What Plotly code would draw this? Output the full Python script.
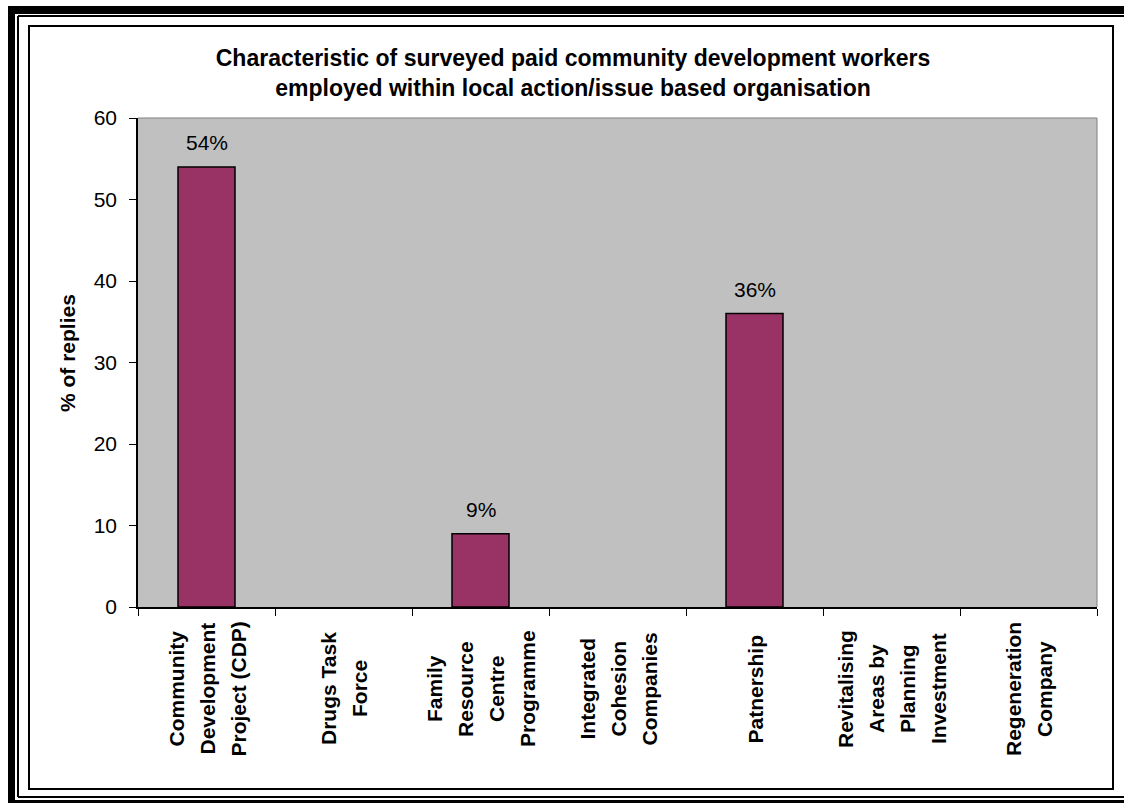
import plotly.graph_objects as go

# Survey data
categories = [
    "Community\nDevelopment\nProject (CDP)",
    "Drugs Task\nForce",
    "Family\nResource\nCentre\nProgramme",
    "Integrated\nCohesion\nCompanies",
    "Patnership",
    "Revitalising\nAreas by\nPlanning\nInvestment",
    "Regeneration\nCompany",
]
pct_replies = [54, 0, 9, 0, 36, 0, 0]
y_ticks = [0, 10, 20, 30, 40, 50, 60]

title_lines = [
    "Characteristic of surveyed paid community development workers",
    "employed within local action/issue based organisation",
]
y_title = "% of replies"

# Canvas and plot-area geometry (pixels)
W, H = 1124, 803
PL, PR, PT, PB = 138, 1097, 118, 607
FONT = "Liberation Sans, Arial, sans-serif"


def px(xp):
    return (xp - PL) / (PR - PL)


def py(yp):
    return (PB - yp) / (PB - PT)


cat_keys = [c.replace("\n", " ") for c in categories]
n = len(categories)

fig = go.Figure()
fig.add_trace(go.Bar(
    x=cat_keys,
    y=pct_replies,
    marker=dict(
        color="#993366",
        line=dict(color="#000000", width=[1.5 if v > 0 else 0 for v in pct_replies]),
    ),
    hoverinfo="x+y",
))

annotations = []
# value labels above bars
for k, v in zip(cat_keys, pct_replies):
    if v > 0:
        annotations.append(dict(
            x=k, y=v, xref="x", yref="y", text=f"{v}%", showarrow=False,
            yanchor="bottom", xanchor="center", yshift=11,
            font=dict(family=FONT, size=21, color="#000000"),
        ))

# rotated, centred category labels below the axis
LINE_GAP = 31
for k, label in zip(cat_keys, categories):
    lines = label.split("\n")
    m = len(lines)
    for i, line in enumerate(lines):
        annotations.append(dict(
            x=k, y=0, xref="x", yref="paper", text=f"<b>{line}</b>",
            showarrow=False, textangle=-90,
            xanchor="center", yanchor="middle",
            xshift=(i - (m - 1) / 2) * LINE_GAP, yshift=-(689 - PB),
            font=dict(family=FONT, size=21, color="#000000"),
        ))

# y-axis title
annotations.append(dict(
    x=px(67), y=py(353), xref="paper", yref="paper", text=f"<b>{y_title}</b>",
    showarrow=False, textangle=-90, xanchor="center", yanchor="middle",
    font=dict(family=FONT, size=21, color="#000000"),
))

shapes = []
# plot-area border (top and right)
shapes.append(dict(type="line", xref="paper", yref="paper", x0=0, x1=1, y0=1, y1=1,
                   line=dict(color="#808080", width=1), layer="above"))
shapes.append(dict(type="line", xref="paper", yref="paper", x0=1, x1=1, y0=0, y1=1,
                   line=dict(color="#808080", width=1), layer="above"))
# chart-area border
shapes.append(dict(type="rect", xref="paper", yref="paper",
                   x0=px(29), x1=px(1113), y0=py(789), y1=py(26),
                   line=dict(color="#000000", width=2), layer="above"))
# outer double frame: thick bands
for x0, x1, y0, y1 in [(8, 15, 6, 803), (8, W, 6, 14), (8, W, 800, 803)]:
    shapes.append(dict(type="rect", xref="paper", yref="paper",
                       x0=px(x0), x1=px(x1), y0=py(y1), y1=py(y0),
                       fillcolor="#000000", line=dict(width=0), layer="above"))
# outer double frame: thin rules
shapes.append(dict(type="line", xref="paper", yref="paper",
                   x0=px(18), x1=px(18), y0=py(797), y1=py(16),
                   line=dict(color="#000000", width=2), layer="above"))
for yy in (16, 797):
    shapes.append(dict(type="line", xref="paper", yref="paper",
                       x0=px(18), x1=px(W), y0=py(yy), y1=py(yy),
                       line=dict(color="#000000", width=2), layer="above"))

fig.update_layout(
    width=W, height=H,
    margin=dict(l=PL, r=W - PR, t=PT, b=H - PB, autoexpand=False),
    paper_bgcolor="#FFFFFF",
    plot_bgcolor="#C0C0C0",
    showlegend=False,
    bargap=0.584,
    title=dict(
        text="<b>" + "<br>".join(title_lines) + "</b>",
        x=573 / W, xanchor="center", xref="container",
        y=1 - 66 / H, yanchor="top", yref="container",
        font=dict(family=FONT, size=23, color="#000000"),
    ),
    xaxis=dict(
        type="category", categoryorder="array", categoryarray=cat_keys,
        range=[-0.5, n - 0.5], showticklabels=False,
        ticks="outside", tickson="boundaries", ticklen=7, tickcolor="#000000", tickwidth=1,
        showline=True, linecolor="#000000", linewidth=1.5,
        showgrid=False, zeroline=False, fixedrange=True,
    ),
    xaxis2=dict(
        overlaying="x", anchor="y", side="bottom", type="linear",
        range=[-0.5, n - 0.5], tickmode="array",
        tickvals=[i - 0.5 for i in range(n + 1)],
        ticks="inside", ticklen=6, tickcolor="#000000", tickwidth=1,
        showticklabels=False, showline=False, showgrid=False, zeroline=False,
        fixedrange=True,
    ),
    yaxis=dict(
        range=[0, 60], tickmode="array", tickvals=y_ticks,
        ticks="outside", ticklen=7, tickcolor="#000000", tickwidth=1,
        ticklabelstandoff=8,
        tickfont=dict(family=FONT, size=21, color="#000000"),
        showline=True, linecolor="#000000", linewidth=1.5,
        showgrid=False, zeroline=False, fixedrange=True,
    ),
    annotations=annotations,
    shapes=shapes,
)

fig.write_html("out.html")
